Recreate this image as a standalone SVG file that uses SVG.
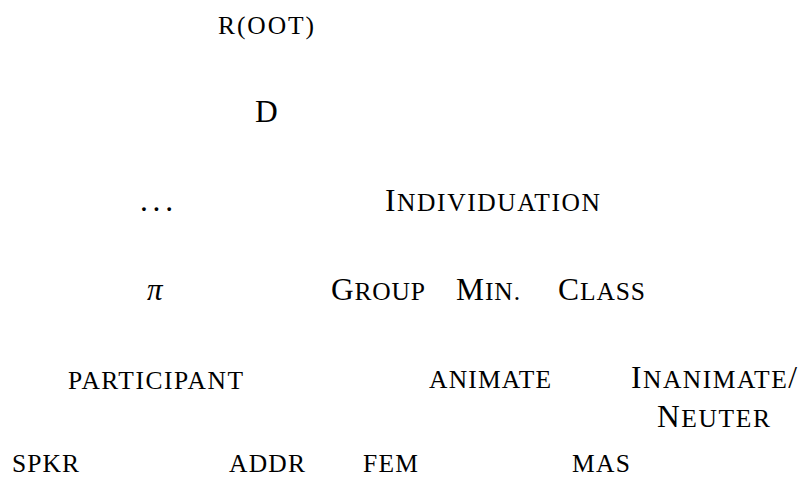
<svg xmlns="http://www.w3.org/2000/svg" width="799" height="479" viewBox="0 0 799 479">
<style>
.t{font-family:"Liberation Serif",serif;fill:#000;font-size:25.5px}
.b{font-size:31.5px}
.pi{font-style:italic;font-size:31px}
</style>
<rect width="799" height="479" fill="#fff"/>
<g id="connectors"></g>
<g id="n-root"><text class="t" x="218" y="34" textLength="96" lengthAdjust="spacing">R(OOT)</text></g>
<g id="n-d"><text class="t b" x="255" y="122">D</text></g>
<g id="n-dots"><text class="t b" x="140" y="211" textLength="33" lengthAdjust="spacing">. . .</text></g>
<g id="n-individuation"><text class="t" x="385" y="211" textLength="215" lengthAdjust="spacing"><tspan class="b">I</tspan>NDIVIDUATION</text></g>
<g id="n-pi"><text class="t pi" x="147" y="300">π</text></g>
<g id="n-group"><text class="t" x="331" y="300" textLength="94" lengthAdjust="spacing"><tspan class="b">G</tspan>ROUP</text></g>
<g id="n-min"><text class="t" x="456" y="300" textLength="64" lengthAdjust="spacing"><tspan class="b">M</tspan>IN.</text></g>
<g id="n-class"><text class="t" x="558" y="300" textLength="87" lengthAdjust="spacing"><tspan class="b">C</tspan>LASS</text></g>
<g id="n-participant"><text class="t" x="68" y="389" textLength="175" lengthAdjust="spacing">PARTICIPANT</text></g>
<g id="n-animate"><text class="t" x="429" y="388" textLength="122" lengthAdjust="spacing">ANIMATE</text></g>
<g id="n-inanimate"><text class="t" x="631" y="388" textLength="166" lengthAdjust="spacing"><tspan class="b">I</tspan>NANIMATE<tspan class="b">/</tspan></text>
<text class="t" x="657" y="427" textLength="113" lengthAdjust="spacing"><tspan class="b">N</tspan>EUTER</text></g>
<g id="n-spkr"><text class="t" x="12" y="472" textLength="67" lengthAdjust="spacing">SPKR</text></g>
<g id="n-addr"><text class="t" x="229" y="472" textLength="76" lengthAdjust="spacing">ADDR</text></g>
<g id="n-fem"><text class="t" x="363" y="472" textLength="55" lengthAdjust="spacing">FEM</text></g>
<g id="n-mas"><text class="t" x="572" y="472" textLength="58" lengthAdjust="spacing">MAS</text></g>
</svg>
